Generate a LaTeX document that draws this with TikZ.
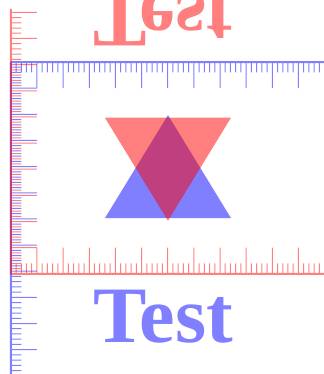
\documentclass[tikz,border=0pt]{standalone}
\usepackage{fontspec}
\setmainfont{Liberation Serif}

% one half of the picture: rulers, triangle and word in one colour
\newcommand{\scenepart}[4]{%
  \begin{scope}[transparency group, opacity=0.5]
  \begin{scope}[color=#1]
    \draw[axisline] (0,0) -- (12.2,0);
    \draw[axisline] (0,0) -- (0,#2);
    \draw[tickline] \foreach \k [evaluate=\k as \len using {mod(\k,5)==0 ? 1 : 0.4}] in {1,...,61} {(\k/5,0) -- (\k/5,\len)};
    \draw[tickline] \foreach \k [evaluate=\k as \len using {mod(\k,5)==0 ? 1 : 0.4}] in {1,...,#3} {(0,\k/5) -- (\len,\k/5)};
    \fill (6.01,2.03) -- (3.6,5.97) -- (8.42,5.97) -- cycle;
    \node[word, transform shape] (#4) at (3.17,10.71) {Test};
  \end{scope}
  \end{scope}}

\begin{document}
\begin{tikzpicture}[
    x=26.15pt, y=-26.15pt,
    axisline/.style={line width=2pt},
    tickline/.style={line width=1pt},
    word/.style={font=\fontsize{80}{80}\selectfont\bfseries, inner sep=0pt, anchor=base west}
]
\useasboundingbox (-0.413,-2.371) rectangle (11.939,11.931);
\clip (-0.413,-2.371) rectangle (11.939,11.931);

\scenepart{blue}{12.2}{60}{wordblue}
\begin{scope}[shift={(0,8.1)}, yscale=-1]
  \scenepart{red}{10.13}{50}{wordred}
\end{scope}
\end{tikzpicture}
\end{document}
